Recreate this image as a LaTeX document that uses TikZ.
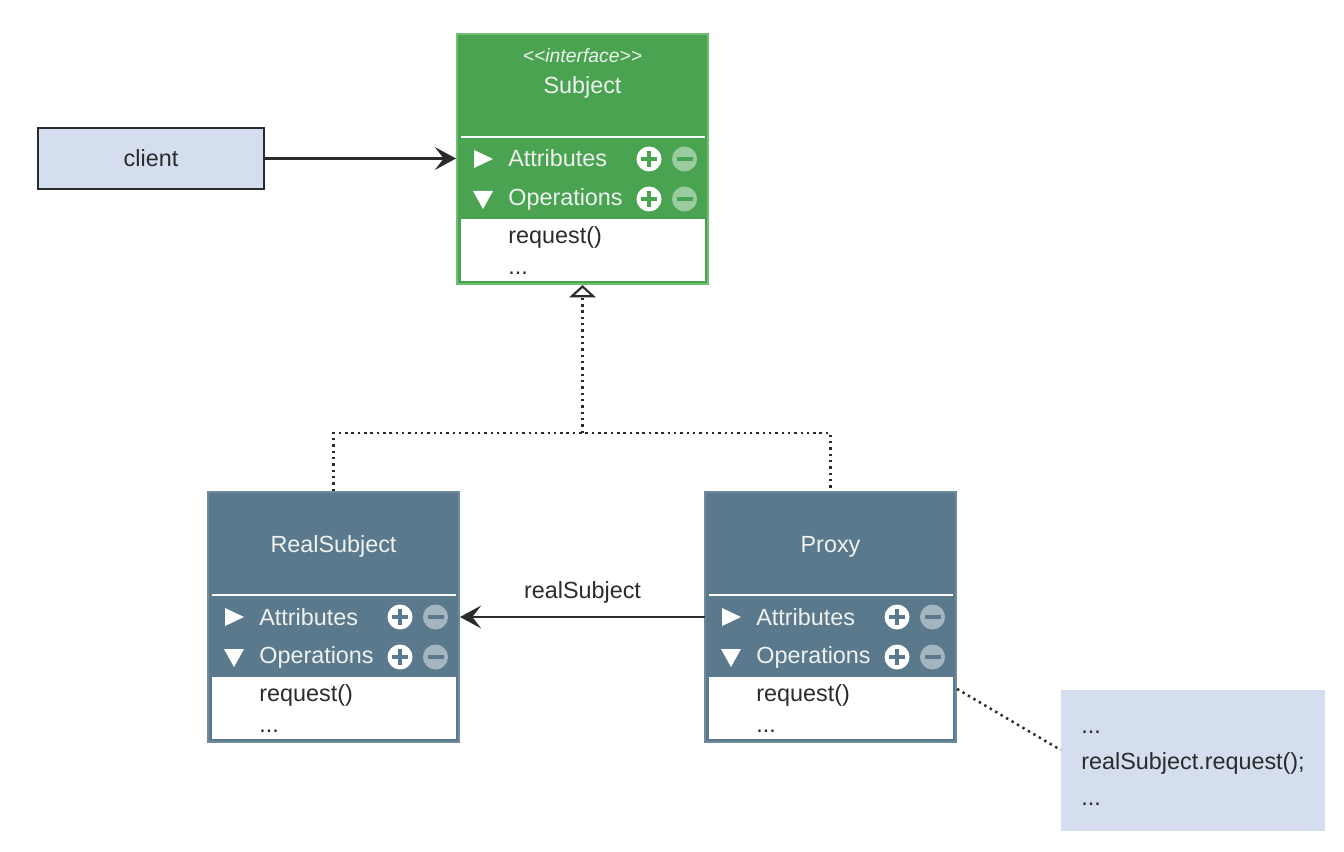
\documentclass[tikz,border=0pt]{standalone}
\usepackage{fontspec}
\setmainfont{Liberation Sans}
\usetikzlibrary{arrows.meta}

\definecolor{umlgreen}{HTML}{4AA350}
\definecolor{umlgreenedge}{HTML}{6CC070}
\definecolor{umlslate}{HTML}{5B798C}
\definecolor{umlslateedge}{HTML}{6F8A9B}
\definecolor{notefill}{HTML}{D4DEEF}
\definecolor{titlegrey}{HTML}{EEF2F0}
\definecolor{inkgrey}{HTML}{2B2B2B}

\tikzset{
  classbox/.style={rectangle, minimum width=5.02cm, minimum height=5cm, line width=1.2pt, inner sep=0pt},
  classtitle/.style={text=titlegrey, inner sep=0pt, anchor=base, font=\fontsize{13.3}{16}\selectfont},
  stereo/.style={text=titlegrey, inner sep=0pt, anchor=base, font=\fontsize{11}{13}\itshape},
  rowtext/.style={text=titlegrey, inner sep=0pt, anchor=base west, font=\fontsize{13.3}{16}\selectfont},
  bodytext/.style={text=inkgrey, inner sep=0pt, anchor=base west, font=\fontsize{13.3}{16}\selectfont},
  plusicon/.style={circle, fill=white, minimum size=0.5cm, inner sep=0pt,
    path picture={\draw[classcol, line width=2pt]
      ([xshift=-0.16cm]path picture bounding box.center) -- ([xshift=0.16cm]path picture bounding box.center)
      ([yshift=-0.16cm]path picture bounding box.center) -- ([yshift=0.16cm]path picture bounding box.center);}},
  minusicon/.style={circle, fill=classcol!55!white, minimum size=0.5cm, inner sep=0pt,
    path picture={\draw[classcol, line width=2pt]
      ([xshift=-0.16cm]path picture bounding box.center) -- ([xshift=0.16cm]path picture bounding box.center);}},
  plainbox/.style={rectangle, fill=notefill, text=inkgrey, font=\fontsize{13.3}{16}\selectfont},
  realize/.style={draw=inkgrey, line width=1.4pt, dash pattern=on 1.4pt off 2.2pt},
  assoc/.style={->, inkgrey, line width=1.4pt},
}

% one class box: name, left x, top y, colour, title
\newcommand{\umlclass}[5]{%
  \colorlet{classcol}{#4}
  \node [classbox, fill=#4, draw=#4edge] (#1) at (#2+125.5,#3+125) {};
  \node [classtitle] (#1-title) at (#2+125.5,#3+60) {#5};
  \draw [white, line width=1.6pt] (#2+4,#3+103) -- (#2+248,#3+103);
  \coordinate (#1-arow) at (#2,#3+125);
  \node [rowtext] (#1-attr) at (#2+51,#3+133) {Attributes};
  \node [rowtext] (#1-ops) at (#2+51,#3+171) {Operations};
  \fill [white] (#2+17,#3+116) -- (#2+36,#3+125) -- (#2+17,#3+134) -- cycle;
  \fill [white] (#2+16,#3+157) -- (#2+36,#3+157) -- (#2+26,#3+175) -- cycle;
  \foreach \y in {125,165} {
    \node [plusicon] at (#2+192,#3+\y) {};
    \node [minusicon] at (#2+227.5,#3+\y) {};
  }
  \fill [white] (#2+4,#3+185) rectangle (#2+248,#3+247);
  \node [bodytext] (#1-op1) at (#2+51,#3+209) {request()};
  \node [bodytext] (#1-op2) at (#2+51,#3+240) {...};
}

\begin{document}
\begin{tikzpicture}[x=0.02cm, y=-0.02cm, >={Stealth[length=12pt, width=13pt, inset=5pt]}]
    \useasboundingbox (0,0) rectangle (1344,851);

    % Classes
    \umlclass{subject}{457}{34}{umlgreen}{Subject}
    \node [stereo] (subject-stereo) at (582.5,63) {<\kern0pt<interface>\kern0pt>};
    \umlclass{realsubject}{208}{492}{umlslate}{RealSubject}
    \umlclass{proxy}{705}{492}{umlslate}{Proxy}

    % client and note
    \node [plainbox, draw=inkgrey, line width=1.2pt, minimum width=4.52cm, minimum height=1.22cm] (client) at (151,158.5) {client};
    \node [plainbox, minimum width=5.28cm, minimum height=2.82cm] (note) at (1193,760.5) {};
    \node [plainbox, fill=none, align=left, inner sep=0pt, anchor=west,
           font=\fontsize{13.3}{20.4}\selectfont] (note-text) at (1081,768) {...\\realSubject.request();\\...};

    % Paths
    \coordinate (fork) at (582.5,433);
    \draw [realize] (realsubject.north) |- (fork) -| (proxy.north);
    \draw [realize, -{Triangle[open, fill=white, length=7pt, width=15pt, line width=1.2pt]}] (fork) -- (subject.south);
    \draw [assoc] (client) -- (client -| subject.west);
    \draw [assoc] (proxy-arow) -- (realsubject.east |- proxy-arow)
        node [midway, above=3.5pt, text=inkgrey, font=\fontsize{13.3}{16}\selectfont] {realSubject};
    \draw [realize] ([yshift=-3.96cm]proxy.north east) -- ([yshift=0.21cm]note.west);

\end{tikzpicture}
\end{document}
